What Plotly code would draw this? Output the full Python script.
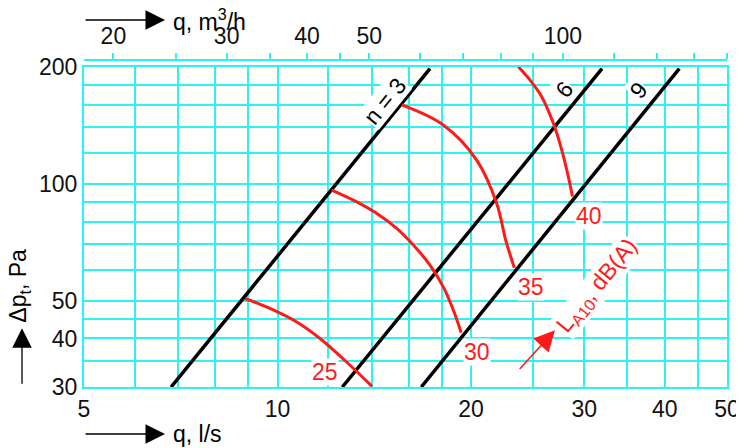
import numpy as np
import plotly.graph_objects as go

# fan curves (straight on log-log), one per speed setting n
n_levels = [3, 6, 9]
n3_q = [6.83, 17.26]
n3_dp = [30, 198]
n6_q = [12.61, 31.96]
n6_dp = [30, 198]
n9_q = [16.73, 42.15]
n9_dp = [30, 198]

# sound level contours L_A10, dB(A)
la_levels = [25, 30, 35, 40]
la25_q = [8.90, 9.73, 10.71, 11.64, 12.73, 14.03]
la25_dp = [50.7, 47.8, 44.1, 40.0, 35.1, 30.1]
la30_q = [12.14, 13.28, 14.27, 15.32, 16.26, 17.26, 18.10, 18.77, 19.3]
la30_dp = [96.4, 89.9, 83.9, 76.8, 69.6, 61.8, 54.3, 47.3, 41.4]
la35_q = [15.60, 18.10, 20.40, 21.92, 22.64, 23.35]
la35_dp = [159.7, 141.8, 115.2, 89.1, 71.6, 60.8]
la40_q = [23.68, 24.70, 25.75, 26.85, 27.67, 28.33, 28.75]
la40_dp = [200.4, 185.1, 167.7, 143.2, 122.2, 104.3, 92.8]

# axis ticks / grid
x_grid = [5, 6, 7, 8, 9, 10, 12, 14, 16, 18, 20, 25, 30, 35, 40, 45, 50]
x_labels = [5, 10, 20, 30, 40, 50]
y_grid = [30, 35, 40, 45, 50, 60, 70, 80, 90, 100, 120, 140, 160, 180, 200]
y_labels = [30, 40, 50, 100, 200]
top_ticks = [20, 25, 30, 35, 40, 45, 50, 60, 70, 80, 90, 100, 120, 140, 160, 180]
top_labels = [20, 30, 40, 50, 100]

CYAN = '#2CF2F2'
RED = '#FF1A1A'
FONT = 'Liberation Sans Narrow, Arial Narrow, Liberation Sans, Arial'
FS = 23

fig = go.Figure()

for q, dp in [(n3_q, n3_dp), (n6_q, n6_dp), (n9_q, n9_dp)]:
    fig.add_trace(go.Scatter(x=q, y=dp, mode='lines',
                             line=dict(color='black', width=3.5),
                             showlegend=False, hoverinfo='skip'))

for q, dp in [(la25_q, la25_dp), (la30_q, la30_dp), (la35_q, la35_dp), (la40_q, la40_dp)]:
    fig.add_trace(go.Scatter(x=q, y=dp, mode='lines',
                             line=dict(color=RED, width=3, shape='spline', smoothing=1.0),
                             showlegend=False, hoverinfo='skip'))

# dummy trace so the top axis (m3/h) gets drawn
fig.add_trace(go.Scatter(x=[20, 180], y=[30, 30], xaxis='x2', mode='lines',
                         line=dict(width=0), showlegend=False, hoverinfo='skip'))

lg = np.log10
annots = []

# contour level labels
for lvl, (qx, py) in zip(la_levels, [(11.85, 32.7), (20.43, 36.9), (24.79, 54.4), (30.54, 82.9)]):
    annots.append(dict(x=lg(qx), y=lg(py), xref='x', yref='y', text=str(lvl),
                       showarrow=False, bgcolor='white', borderpad=0,
                       font=dict(color=RED, size=FS, family=FONT)))

# speed labels along the fan lines
for txt, (qx, py) in zip(['n = 3', '6', '9'], [(14.69, 163.5), (27.97, 175.2), (36.45, 174.5)]):
    annots.append(dict(x=lg(qx), y=lg(py), xref='x', yref='y', text=txt,
                       showarrow=False, textangle=-51, bgcolor='white', borderpad=0,
                       font=dict(color='black', size=FS, family=FONT)))

annots.append(dict(x=lg(31.4), y=lg(54.5), xref='x', yref='y',
                   text='L<sub>A10</sub>, dB(A)', showarrow=False, textangle=-51,
                   bgcolor='white', borderpad=0,
                   font=dict(color=RED, size=FS, family=FONT)))
annots.append(dict(x=lg(27.0), y=lg(42.0), xref='x', yref='y',
                   ax=lg(23.68), ay=lg(33.1), axref='x', ayref='y', text='',
                   showarrow=True, arrowhead=2, arrowsize=2.6, arrowwidth=1.6,
                   arrowcolor=RED))

# axis titles with arrows
annots.append(dict(x=0.126, y=1.1223, xref='paper', yref='paper', text='',
                   showarrow=True, ax=-81, ay=0, arrowhead=2, arrowsize=3.0,
                   arrowwidth=1.3, arrowcolor='black'))
annots.append(dict(x=0.135, y=1.1223, xref='paper', yref='paper',
                   text='q, m<sup>3</sup>/h', showarrow=False,
                   xanchor='left', yanchor='middle',
                   font=dict(color='black', size=FS, family=FONT)))
annots.append(dict(x=0.126, y=-0.1437, xref='paper', yref='paper', text='',
                   showarrow=True, ax=-81, ay=0, arrowhead=2, arrowsize=3.0,
                   arrowwidth=1.3, arrowcolor='black'))
annots.append(dict(x=0.135, y=-0.1437, xref='paper', yref='paper',
                   text='q, l/s', showarrow=False,
                   xanchor='left', yanchor='middle',
                   font=dict(color='black', size=FS, family=FONT)))
annots.append(dict(x=-0.0964, y=0.180, xref='paper', yref='paper', text='',
                   showarrow=True, ax=0, ay=57, arrowhead=2, arrowsize=3.0,
                   arrowwidth=1.3, arrowcolor='black'))
annots.append(dict(x=-0.0995, y=0.31, xref='paper', yref='paper',
                   text='Δp<sub>t</sub>, Pa', showarrow=False, textangle=-90,
                   xanchor='center', yanchor='middle',
                   font=dict(color='black', size=FS, family=FONT)))

# page body has an 8px margin, so the figure is 8px smaller and margins shifted
fig.update_layout(
    width=736, height=440,
    margin=dict(l=76, r=17, t=52, b=61, autoexpand=False),
    paper_bgcolor='white', plot_bgcolor='white',
    font=dict(family=FONT, size=FS, color='#111'),
    annotations=annots,
    xaxis=dict(type='log', range=[lg(5), lg(50)], automargin=False,
               tickvals=x_grid,
               ticktext=[str(v) if v in x_labels else '' for v in x_grid],
               showgrid=True, gridcolor=CYAN, gridwidth=2,
               showline=True, linecolor=CYAN, linewidth=2, mirror=True,
               ticks='', zeroline=False),
    xaxis2=dict(type='log', range=[lg(18), lg(180)], overlaying='x',
                side='top', anchor='free', position=1, automargin=False,
                tickvals=top_ticks,
                ticktext=[str(v) if v in top_labels else '' for v in top_ticks],
                showgrid=False, showline=True, linecolor=CYAN, linewidth=2,
                ticks='outside', ticklen=6, tickwidth=2, tickcolor=CYAN),
    yaxis=dict(type='log', range=[lg(30), lg(200)], domain=[0, 0.9786],
               automargin=False,
               tickvals=y_grid,
               ticktext=[str(v) if v in y_labels else '' for v in y_grid],
               showgrid=True, gridcolor=CYAN, gridwidth=2,
               showline=True, linecolor=CYAN, linewidth=2, mirror=True,
               ticks='', zeroline=False),
)

fig.write_html("out.html")
